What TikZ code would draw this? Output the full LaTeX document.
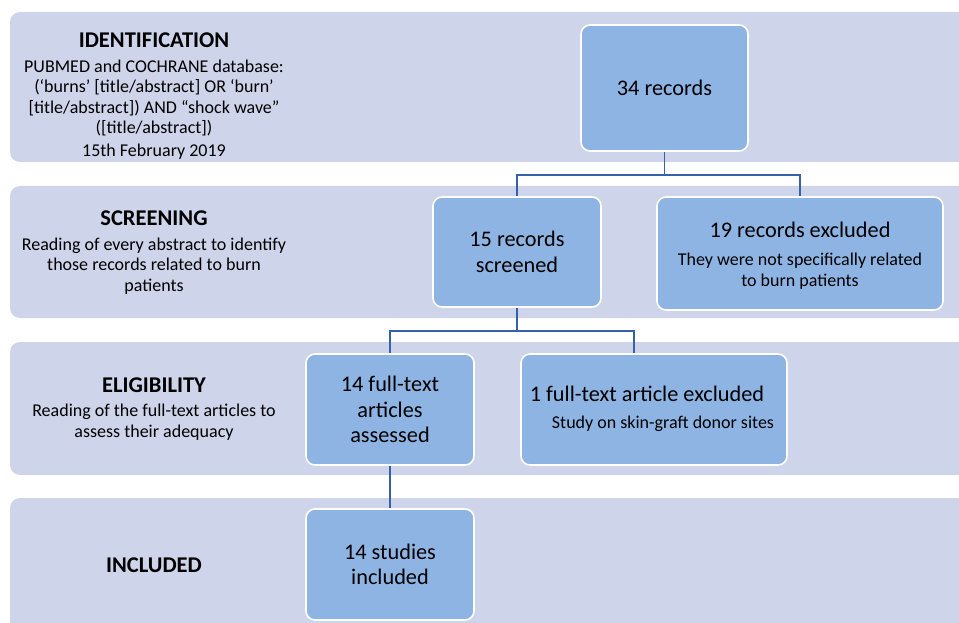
\documentclass[tikz,border=0pt]{standalone}
\usepackage{fontspec}
\setmainfont{Carlito}
\definecolor{bandc}{HTML}{CED4EA}
\definecolor{boxc}{HTML}{8EB4E3}
\definecolor{linec}{HTML}{3461A8}
\tikzset{
  band/.style={fill=bandc, draw=none, rounded corners=10pt},
  stage/.style={draw=white, line width=1.6pt, fill=boxc, rounded corners=9pt, inner sep=0pt, align=center},
  conn/.style={draw=linec, line width=1.8pt},
  title/.style={font=\fontsize{22.5}{25}\selectfont\bfseries, inner sep=0pt, anchor=center},
  body/.style={font=\fontsize{18}{20.5}\selectfont, inner sep=0pt, anchor=center, align=center},
  big/.style={font=\fontsize{22.3}{25.5}\selectfont, inner sep=0pt, anchor=center, align=center},
}
\begin{document}
\begin{tikzpicture}[x=1pt,y=-1pt]
\useasboundingbox (0,0) rectangle (959,623);
\clip (0,0) rectangle (959,623);
% bands
\fill[band] (10,12) rectangle (990,162);
\fill[band] (10,186) rectangle (990,318);
\fill[band] (10,342) rectangle (990,475);
\fill[band] (10,498) rectangle (990,660);
% left labels
\node[title] (tId) at (154,40) {IDENTIFICATION};
\node[body] (bId) at (154,98) {PUBMED and COCHRANE database:\\(‘burns’ {[}title/abstract{]} OR ‘burn’\\{[}title/abstract{]}) AND “shock wave”\\({[}title/abstract{]})};
\node[body] (dId) at (154,152) {15th February 2019};
\node[title] (tSc) at (154,218) {SCREENING};
\node[body] (bSc) at (154,266) {Reading of every abstract to identify\\those records related to burn\\patients};
\node[title] (tEl) at (154,385) {ELIGIBILITY};
\node[body] (bEl) at (154,422) {Reading of the full-text articles to\\assess their adequacy};
\node[title] (tIn) at (154,565) {INCLUDED};
% boxes
\node[stage, minimum width=167pt, minimum height=126pt, font=\fontsize{22.3}{25.5}\selectfont] (r34) at (664.5,88) {34 records};
\node[stage, minimum width=168pt, minimum height=110pt, font=\fontsize{22.3}{25.5}\selectfont] (s15) at (517,252) {15 records\\screened};
\node[stage, minimum width=286pt, minimum height=113pt] (x19) at (800,253.5) {};
\node[big] (x19t) at (800,230) {19 records excluded};
\node[body] (x19b) at (800,271) {They were not specifically related\\to burn patients};
\node[stage, minimum width=168pt, minimum height=111pt, font=\fontsize{22.3}{25.5}\selectfont] (f14) at (390,409.5) {14 full-text\\articles\\assessed};
\node[stage, minimum width=266pt, minimum height=111pt] (x1) at (654,409.5) {};
\node[big] (x1t) at (647,394) {1 full-text article excluded};
\node[body] (x1b) at (663,424) {Study on skin-graft donor sites};
\node[stage, minimum width=168pt, minimum height=111pt, font=\fontsize{22.3}{25.5}\selectfont] (i14) at (390,564.5) {14 studies\\included};
% connectors
\coordinate (j1) at (664.5,175);
\coordinate (j2) at (517,331);
\draw[conn] (r34.south) -- (j1);
\draw[conn] (s15.north) |- (j1) -| (x19.north);
\draw[conn] (s15.south) -- (j2);
\draw[conn] (f14.north) |- (j2) -| ([xshift=-20pt]x1.north);
\draw[conn] (f14.south) -- (i14.north);
\end{tikzpicture}
\end{document}
